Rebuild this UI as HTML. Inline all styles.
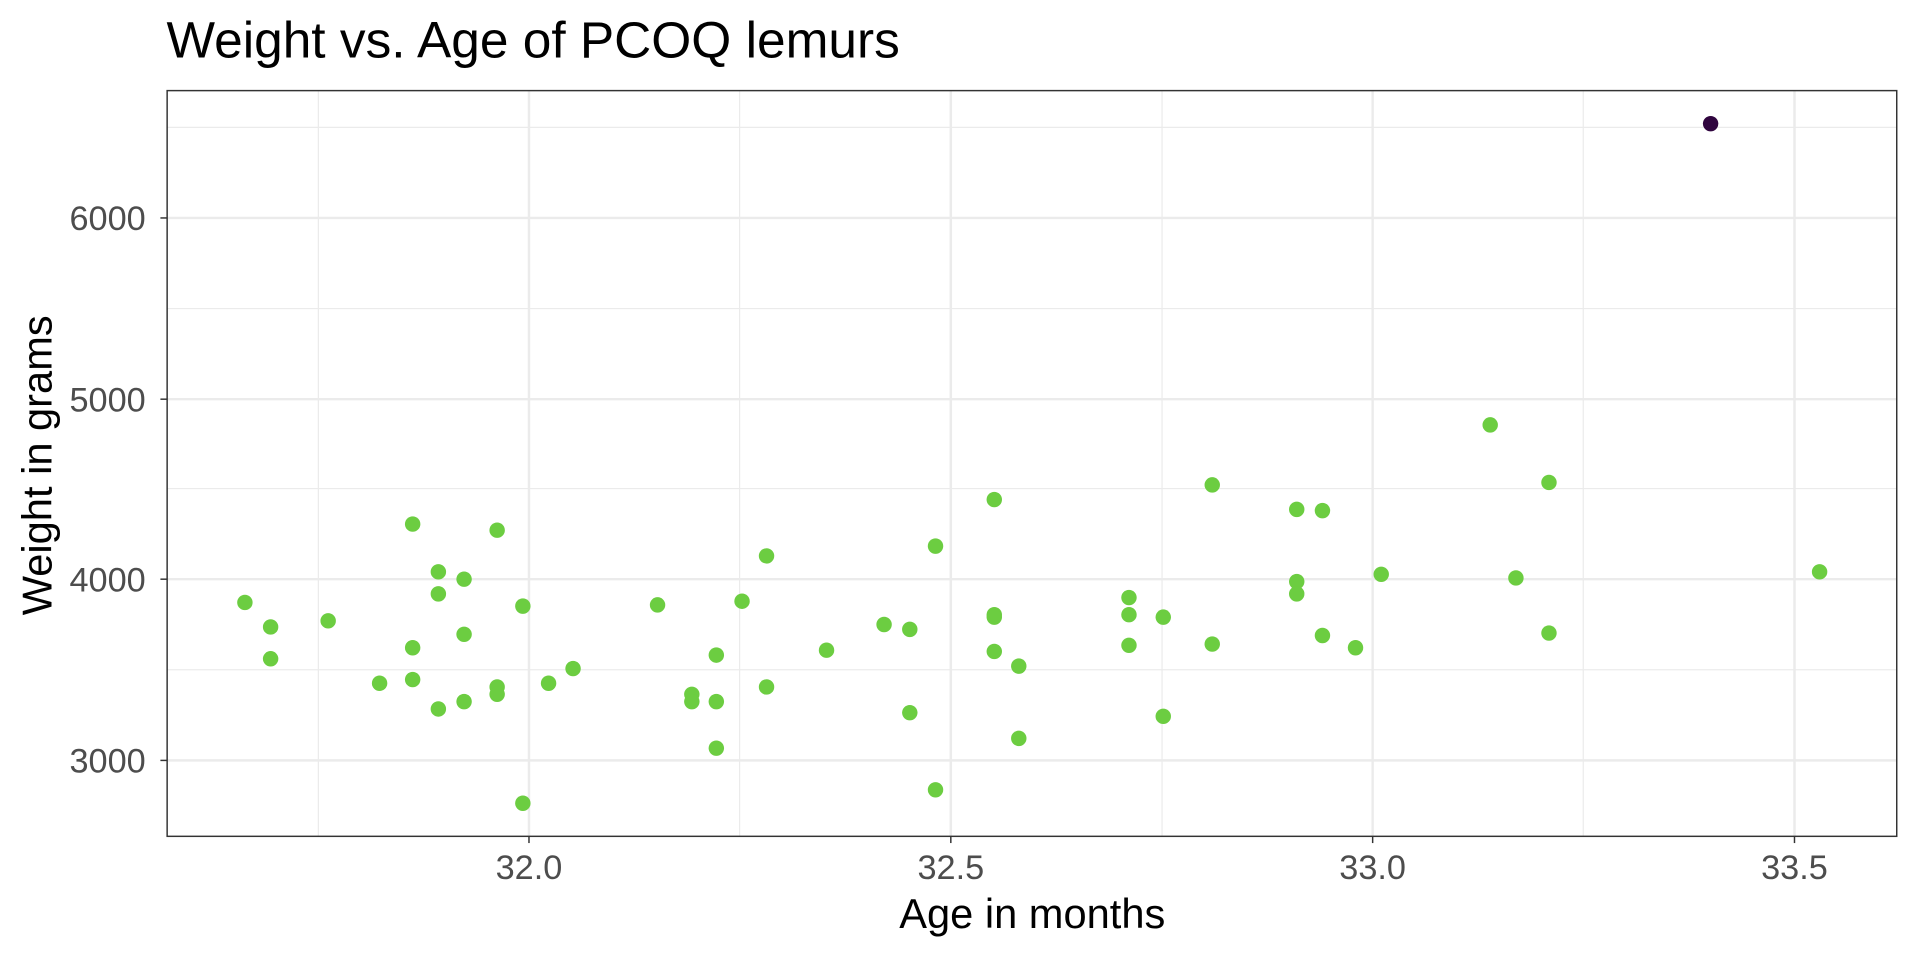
<!DOCTYPE html>
<html><head><style>html,body{margin:0;padding:0;background:#fff}svg{display:block}</style></head>
<body>
<svg width="1920" height="960" viewBox="0 0 1568 784" xmlns="http://www.w3.org/2000/svg" font-family="Liberation Sans, Arial, sans-serif">
<rect width="1568" height="784" fill="#fff"/>
<g stroke="#ebebeb" stroke-width="1">
<line x1="136.5" x2="1549" y1="547" y2="547"/><line x1="136.5" x2="1549" y1="399" y2="399"/><line x1="136.5" x2="1549" y1="252" y2="252"/><line x1="136.5" x2="1549" y1="104" y2="104"/>
<line y1="74" y2="683" x1="260" x2="260"/><line y1="74" y2="683" x1="604" x2="604"/><line y1="74" y2="683" x1="949" x2="949"/><line y1="74" y2="683" x1="1293" x2="1293"/>
</g>
<g stroke="#ebebeb" stroke-width="2">
<line x1="136.5" x2="1549" y1="621" y2="621"/><line x1="136.5" x2="1549" y1="473" y2="473"/><line x1="136.5" x2="1549" y1="326" y2="326"/><line x1="136.5" x2="1549" y1="178" y2="178"/>
<line y1="74" y2="683" x1="432" x2="432"/><line y1="74" y2="683" x1="776.5" x2="776.5"/><line y1="74" y2="683" x1="1121" x2="1121"/><line y1="74" y2="683" x1="1465.5" x2="1465.5"/>
</g>
<g fill="#6ccd41">
<circle cx="200" cy="492" r="6.3"/><circle cx="221" cy="512" r="6.3"/><circle cx="221" cy="538" r="6.3"/><circle cx="268" cy="507" r="6.3"/><circle cx="310" cy="558" r="6.3"/><circle cx="337" cy="428" r="6.3"/><circle cx="337" cy="529" r="6.3"/><circle cx="337" cy="555" r="6.3"/><circle cx="358" cy="467" r="6.3"/><circle cx="358" cy="485" r="6.3"/><circle cx="358" cy="579" r="6.3"/><circle cx="379" cy="473" r="6.3"/><circle cx="379" cy="518" r="6.3"/><circle cx="379" cy="573" r="6.3"/><circle cx="406" cy="433" r="6.3"/><circle cx="406" cy="561" r="6.3"/><circle cx="406" cy="567" r="6.3"/><circle cx="427" cy="495" r="6.3"/><circle cx="427" cy="656" r="6.3"/><circle cx="448" cy="558" r="6.3"/><circle cx="468" cy="546" r="6.3"/><circle cx="537" cy="494" r="6.3"/><circle cx="565" cy="567" r="6.3"/><circle cx="565" cy="573" r="6.3"/><circle cx="585" cy="535" r="6.3"/><circle cx="585" cy="573" r="6.3"/><circle cx="585" cy="611" r="6.3"/><circle cx="606" cy="491" r="6.3"/><circle cx="626" cy="454" r="6.3"/><circle cx="626" cy="561" r="6.3"/><circle cx="675" cy="531" r="6.3"/><circle cx="722" cy="510" r="6.3"/><circle cx="743" cy="514" r="6.3"/><circle cx="743" cy="582" r="6.3"/><circle cx="764" cy="446" r="6.3"/><circle cx="764" cy="645" r="6.3"/><circle cx="812" cy="408" r="6.3"/><circle cx="812" cy="502" r="6.3"/><circle cx="812" cy="504" r="6.3"/><circle cx="812" cy="532" r="6.3"/><circle cx="832" cy="544" r="6.3"/><circle cx="832" cy="603" r="6.3"/><circle cx="922" cy="488" r="6.3"/><circle cx="922" cy="502" r="6.3"/><circle cx="922" cy="527" r="6.3"/><circle cx="950" cy="504" r="6.3"/><circle cx="950" cy="585" r="6.3"/><circle cx="990" cy="396" r="6.3"/><circle cx="990" cy="526" r="6.3"/><circle cx="1059" cy="416" r="6.3"/><circle cx="1059" cy="475" r="6.3"/><circle cx="1059" cy="485" r="6.3"/><circle cx="1080" cy="417" r="6.3"/><circle cx="1080" cy="519" r="6.3"/><circle cx="1107" cy="529" r="6.3"/><circle cx="1128" cy="469" r="6.3"/><circle cx="1217" cy="347" r="6.3"/><circle cx="1238" cy="472" r="6.3"/><circle cx="1265" cy="394" r="6.3"/><circle cx="1265" cy="517" r="6.3"/><circle cx="1486" cy="467" r="6.3"/>
</g>
<circle cx="1397" cy="101" r="6.3" fill="#30053f"/>
<rect x="136.5" y="74" width="1412.5" height="609" fill="none" stroke="#333" stroke-width="1.2"/>
<g stroke="#333" stroke-width="1.2">
<line x1="131" x2="136.5" y1="621" y2="621"/><line x1="131" x2="136.5" y1="473" y2="473"/><line x1="131" x2="136.5" y1="326" y2="326"/><line x1="131" x2="136.5" y1="178" y2="178"/>
<line y1="683" y2="688.5" x1="432" x2="432"/><line y1="683" y2="688.5" x1="776.5" x2="776.5"/><line y1="683" y2="688.5" x1="1121" x2="1121"/><line y1="683" y2="688.5" x1="1465.5" x2="1465.5"/>
</g>
<g fill="#4d4d4d" font-size="28" text-anchor="end">
<text x="119" y="631">3000</text><text x="119" y="483">4000</text><text x="119" y="336">5000</text><text x="119" y="188">6000</text>
</g>
<g fill="#4d4d4d" font-size="28" text-anchor="middle">
<text x="432" y="718">32.0</text><text x="776.5" y="718">32.5</text><text x="1121" y="718">33.0</text><text x="1465.5" y="718">33.5</text>
</g>
<text x="843" y="758" font-size="34" text-anchor="middle" fill="#000">Age in months</text>
<text transform="translate(42,380) rotate(-90)" font-size="34" text-anchor="middle" fill="#000">Weight in grams</text>
<text x="136" y="47" font-size="42" fill="#000">Weight vs. Age of PCOQ lemurs</text>
</svg>
</body></html>
